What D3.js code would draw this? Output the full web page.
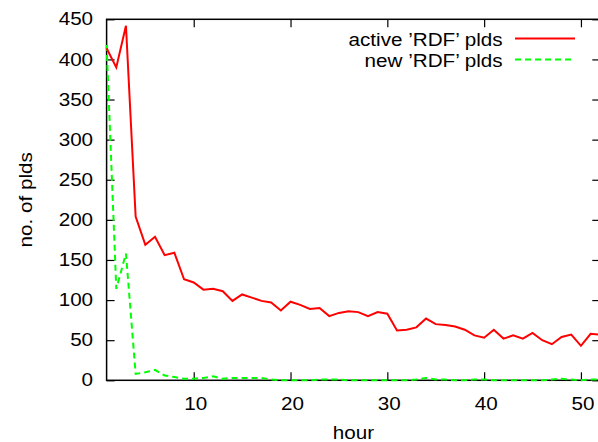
<!DOCTYPE html>
<html>
<head>
<meta charset="utf-8">
<script src="https://cdn.jsdelivr.net/npm/d3@7"></script>
<style>
  body { margin: 0; background: #fff; }
  svg text { font-family: "Liberation Sans", Arial, sans-serif; fill: #000; }
</style>
</head>
<body>
<svg id="chart" width="598" height="442"></svg>
<script>
const hours = d3.range(1, 53);

const activePlds = [
  414, 390, 442, 204, 169, 179, 156, 159, 126, 122,
  113, 114, 111, 99, 107, 103, 99, 97, 87, 98,
  94, 89, 90, 80, 84, 86, 85, 80, 85, 83,
  62, 63, 66, 77, 70, 69, 67, 63, 56, 53,
  63, 52, 56, 52, 59, 50, 45, 54, 57, 43,
  58, 57,
];

const newPlds = [
  418, 114, 158, 8, 10, 13, 6, 4, 2, 2,
  3, 5, 2, 3, 3, 3, 3, 1, 0, 0,
  0, 0, 1, 1, 1, 0, 0, 0, 0, 0,
  0, 0, 1, 3, 1, 1, 0, 0, 1, 1,
  0, 0, 0, 0, 0, 0, 1, 2, 1, 0,
  1, 1,
];

const yTicks = d3.range(0, 451, 50);
const xTicks = [10, 20, 30, 40, 50];

const series = [
  { label: "active \u2019RDF\u2019 plds", values: activePlds, color: "#ff0000", dash: null },
  { label: "new \u2019RDF\u2019 plds", values: newPlds, color: "#00ff00", dash: "6,4" },
];

const plot = { left: 106.6, right: 600.3, top: 19.3, bottom: 380.3 };
const fontSize = 17.5;
const widen = 1.18;

const svg = d3.select("#chart");

const x = d3.scaleLinear().domain([1, 52]).range([plot.left, plot.right]);
const y = d3.scaleLinear().domain([0, 450]).range([plot.bottom, plot.top]);

// gnuplot's font looks wider than Liberation Sans, stretch every label a bit
function stretch(sel, k) {
  sel.each(function () {
    const w = this.getComputedTextLength();
    d3.select(this)
      .attr("textLength", w * k)
      .attr("lengthAdjust", "spacingAndGlyphs");
  });
}

function styleAxis(g) {
  g.select(".domain").remove();
  g.selectAll(".tick line").attr("stroke", "#000").attr("stroke-width", 1.2);
  g.selectAll("text").attr("font-size", fontSize).attr("font-family", null);
}

svg.append("g")
  .attr("transform", `translate(${plot.left},0)`)
  .call(d3.axisLeft(y).tickValues(yTicks).tickSize(-8).tickPadding(13.5))
  .call(styleAxis);

svg.append("g")
  .attr("transform", `translate(${plot.right},0)`)
  .call(d3.axisRight(y).tickValues(yTicks).tickSize(-8).tickFormat(""))
  .call(styleAxis);

const bottom = svg.append("g")
  .attr("transform", `translate(0,${plot.bottom})`)
  .call(d3.axisBottom(x).tickValues(xTicks).tickSize(-8))
  .call(styleAxis);
bottom.selectAll("text").attr("y", 29.7).attr("dy", 0).attr("dx", 1.5);

svg.append("g")
  .attr("transform", `translate(0,${plot.top})`)
  .call(d3.axisTop(x).tickValues(xTicks).tickSize(-8).tickFormat(""))
  .call(styleAxis);

svg.append("rect")
  .attr("x", plot.left)
  .attr("y", plot.top)
  .attr("width", plot.right - plot.left)
  .attr("height", plot.bottom - plot.top)
  .attr("fill", "none")
  .attr("stroke", "#000")
  .attr("stroke-width", 1.5);

const line = d3.line()
  .x((d, i) => x(hours[i]))
  .y((d) => y(d));

svg.append("g")
  .selectAll("path")
  .data(series.slice().reverse())
  .join("path")
  .attr("d", (d) => line(d.values))
  .attr("fill", "none")
  .attr("stroke", (d) => d.color)
  .attr("stroke-width", 2)
  .attr("stroke-dasharray", (d) => d.dash)
  .attr("stroke-linejoin", "miter");

const legend = svg.append("g")
  .selectAll("g")
  .data(series)
  .join("g")
  .attr("transform", (d, i) => `translate(0,${38.5 + i * 21})`);

legend.append("text")
  .attr("x", 502.7)
  .attr("y", 7)
  .attr("text-anchor", "end")
  .attr("font-size", fontSize)
  .text((d) => d.label);

legend.append("line")
  .attr("x1", 515)
  .attr("x2", 575)
  .attr("stroke", (d) => d.color)
  .attr("stroke-width", 2)
  .attr("stroke-dasharray", (d) => d.dash);

svg.append("text")
  .attr("x", (plot.left + plot.right) / 2)
  .attr("y", 439)
  .attr("text-anchor", "middle")
  .attr("font-size", fontSize)
  .text("hour");

svg.append("text")
  .attr("transform", `translate(32,${(plot.top + plot.bottom) / 2}) rotate(-90)`)
  .attr("text-anchor", "middle")
  .attr("font-size", fontSize)
  .text("no. of plds");

stretch(svg.selectAll("text"), widen);
</script>
</body>
</html>
